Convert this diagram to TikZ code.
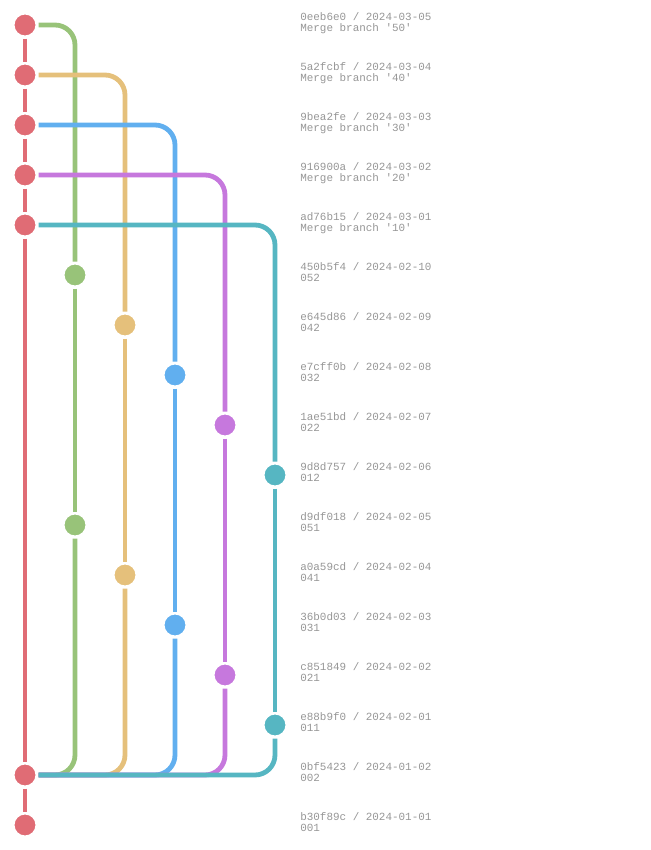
\documentclass[tikz,border=0pt]{standalone}
\usepackage{fontspec}
\setmonofont{Liberation Mono}
\usetikzlibrary{positioning}

\definecolor{gitred}{HTML}{E06C75}
\definecolor{gitgreen}{HTML}{98C379}
\definecolor{gityellow}{HTML}{E5C07B}
\definecolor{gitblue}{HTML}{61AFEF}
\definecolor{gitpurple}{HTML}{C678DD}
\definecolor{gitteal}{HTML}{56B6C2}
\definecolor{msggray}{HTML}{969696}

\tikzset{
  commit/.style={circle, minimum size=18pt, inner sep=0pt, draw=white,
    line width=2.25pt, outer sep=1.125pt},
  branch/.style={line width=3.6pt, rounded corners=15pt},
  msg/.style={anchor=base west, inner sep=0pt, align=left, text=msggray,
    font=\ttfamily\fontsize{8.2pt}{8.6pt}\selectfont}
}

\begin{document}
\begin{tikzpicture}[x=0.75pt, y=-0.75pt]
  \useasboundingbox (0,0) rectangle (650,850);
  % commits
  \foreach \r/\c/\col in {0/0/gitred, 1/0/gitred, 2/0/gitred, 3/0/gitred,
    4/0/gitred, 5/1/gitgreen, 6/2/gityellow, 7/3/gitblue, 8/4/gitpurple,
    9/5/gitteal, 10/1/gitgreen, 11/2/gityellow, 12/3/gitblue,
    13/4/gitpurple, 14/5/gitteal, 15/0/gitred, 16/0/gitred}
    \node[commit, fill=\col] (n\r) at (25+50*\c, 25+50*\r) {};
  % messages
  \foreach \r/\h/\d/\m in {0/0eeb6e0/2024-03-05/Merge branch '50',
    1/5a2fcbf/2024-03-04/Merge branch '40',
    2/9bea2fe/2024-03-03/Merge branch '30',
    3/916900a/2024-03-02/Merge branch '20',
    4/ad76b15/2024-03-01/Merge branch '10',
    5/450b5f4/2024-02-10/052, 6/e645d86/2024-02-09/042,
    7/e7cff0b/2024-02-08/032, 8/1ae51bd/2024-02-07/022,
    9/9d8d757/2024-02-06/012, 10/d9df018/2024-02-05/051,
    11/a0a59cd/2024-02-04/041, 12/36b0d03/2024-02-03/031,
    13/c851849/2024-02-02/021, 14/e88b9f0/2024-02-01/011,
    15/0bf5423/2024-01-02/002, 16/b30f89c/2024-01-01/001}
    \node[msg] (t\r) at (300, 31.5+50*\r) {\h\ /\ \d\\\m};
  % main line
  \draw[line width=3.6pt, gitred] (n0) -- (n1) -- (n2) -- (n3) -- (n4)
    -- (n15) -- (n16);
  % branches
  \foreach \top/\a/\b/\col in {0/5/10/gitgreen, 1/6/11/gityellow,
    2/7/12/gitblue, 3/8/13/gitpurple, 4/9/14/gitteal}
  {
    \draw[branch, \col] (n\top.east) -| (n\a.north);
    \draw[branch, \col] (n\a) -- (n\b);
    \draw[branch, \col] (n\b.south) |- (n15.east);
  }
\end{tikzpicture}
\end{document}
